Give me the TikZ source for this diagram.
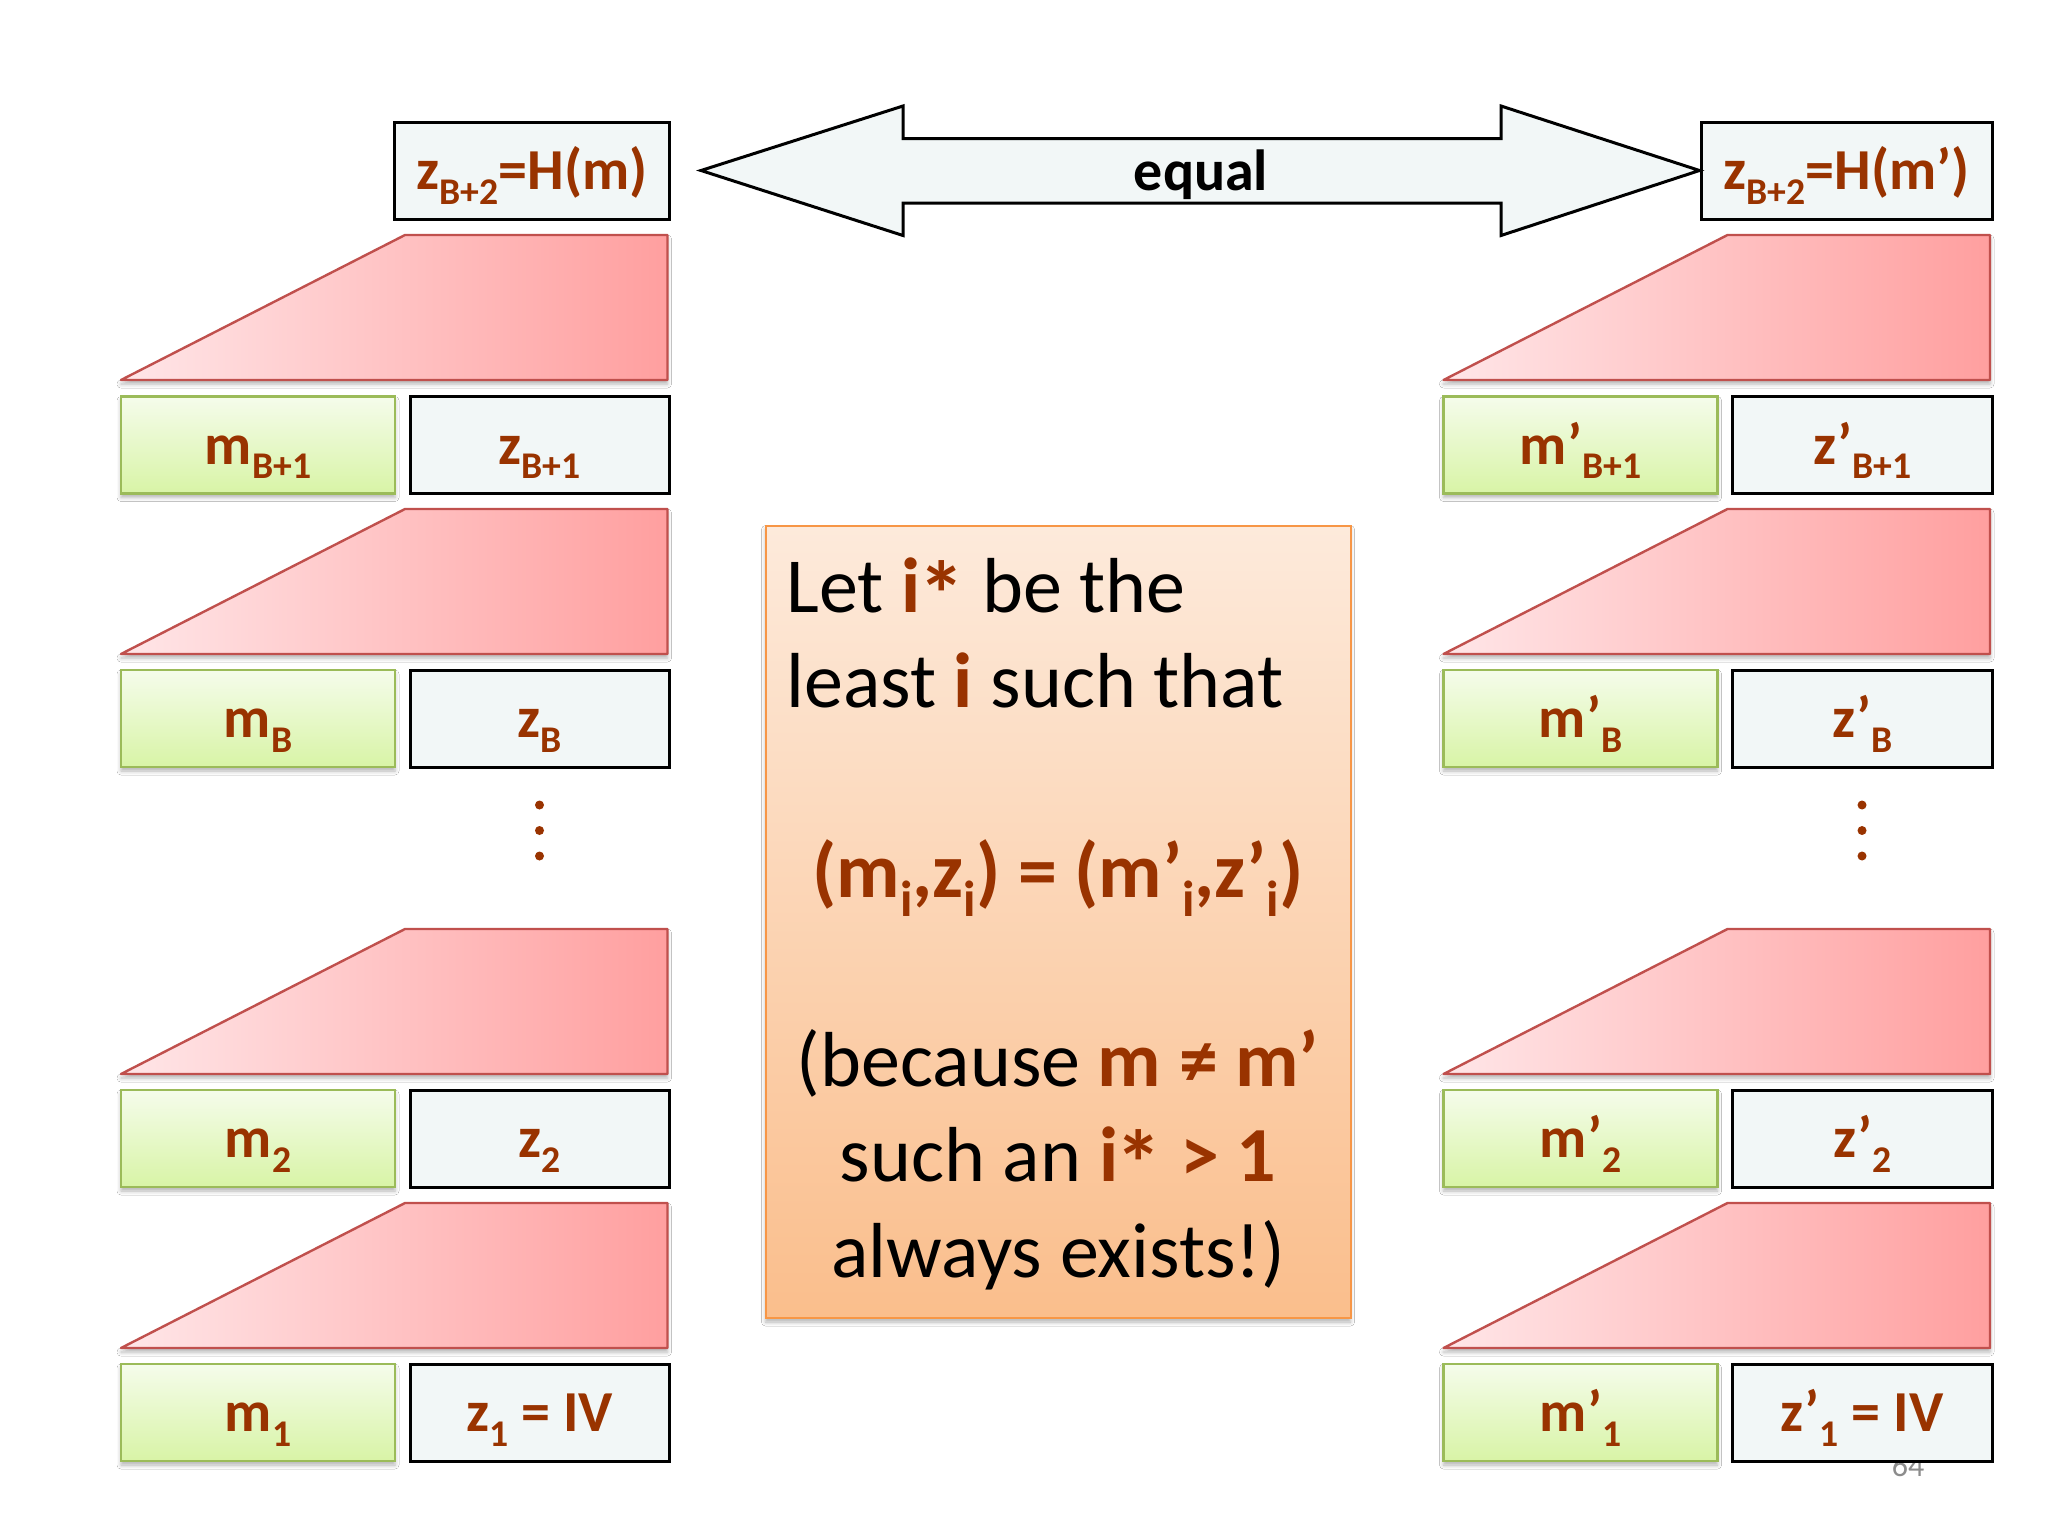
\documentclass[tikz,border=0pt]{standalone}
\usepackage{fontspec}
\setmainfont{Carlito}
\usepackage{graphicx}
\usetikzlibrary{calc,shadows.blur}
\definecolor{brn}{HTML}{993300}
\definecolor{zfill}{HTML}{F2F7F7}
\definecolor{mtop}{HTML}{F5FCEB}
\definecolor{mbot}{HTML}{D8F4A6}
\definecolor{mbord}{HTML}{9BBB59}
\definecolor{tleft}{HTML}{FFE6E8}
\definecolor{tright}{HTML}{FF9F9F}
\definecolor{tbord}{HTML}{C0504D}
\definecolor{otop}{HTML}{FDEADB}
\definecolor{obot}{HTML}{FABE8C}
\definecolor{obord}{HTML}{F79646}
\newcommand\sbs[1]{\raisebox{-0.25em}{\scalebox{0.65}{#1}}}
\newcommand\bigast{\kern-0.03em\raisebox{-0.2em}{\scalebox{1.2}{*}}}
\newcommand\trapez[2]{%
  \draw[trapstyle] (#1,#2+145) -- (#1+284,#2) -- (#1+546.5,#2) -- (#1+546.5,#2+145) -- cycle;}
\begin{document}
\begin{tikzpicture}[x=0.5pt,y=-0.5pt,
  lbl/.style={font=\fontsize{29}{34}\selectfont\bfseries, text=brn, text height=24pt, text depth=5pt},
  zcell/.style={draw=black, line width=1.5pt, fill=zfill, minimum width=129.75pt, minimum height=48.5pt, inner sep=0pt, lbl},
  mcell/.style={draw=mbord, line width=1.4pt, top color=mtop, bottom color=mbot, minimum width=137pt, minimum height=48.5pt, inner sep=0pt, lbl,
    blur shadow={shadow xshift=0pt, shadow yshift=-2pt, shadow blur radius=2pt, shadow opacity=30}},
  trapstyle/.style={draw=tbord, line width=1.2pt, left color=tleft, right color=tright, line join=round,
    blur shadow={shadow xshift=0pt, shadow yshift=-2pt, shadow blur radius=2pt, shadow opacity=30}},
  txt/.style={font=\fontsize{39}{47}\selectfont, text=black, inner sep=0pt},
  dotstyle/.style={fill=brn},
]
\fill[white] (0,0) rectangle (2048,1536);
\useasboundingbox (0,0) rectangle (2048,1536);

% page number (partly hidden)
\node[font=\fontsize{16}{18}\selectfont, text=black!45, anchor=base, inner sep=0pt] (pg) at (1908,1476) {64};

% ---------- left column ----------
\node[zcell, minimum width=137.5pt] (zL) at (532,170.5) {z\sbs{B+2}=H(m)};
\trapez{121}{235}
\node[mcell] (mL1) at (258,445) {m\sbs{B+1}};
\node[zcell] (zL1) at (539.75,445) {z\sbs{B+1}};
\trapez{121}{509}
\node[mcell] (mL2) at (258,718.5) {m\sbs{B}};
\node[zcell] (zL2) at (539.75,718.5) {z\sbs{B}};
\fill[dotstyle] (539.5,805) circle[radius=4.5];
\fill[dotstyle] (539.5,830.5) circle[radius=4.5];
\fill[dotstyle] (539.5,856) circle[radius=4.5];
\trapez{121}{929}
\node[mcell] (mL3) at (258,1138.5) {m\sbs{2}};
\node[zcell] (zL3) at (539.75,1138.5) {z\sbs{2}};
\trapez{121}{1203}
\node[mcell] (mL4) at (258,1412.5) {m\sbs{1}};
\node[zcell] (zL4) at (539.75,1412.5) {z\sbs{1} = IV};

% ---------- right column ----------
\node[zcell, minimum width=145.5pt] (zR) at (1846.5,170.5) {z\sbs{B+2}=H(m’)};
\trapez{1443.5}{235}
\node[mcell] (mR1) at (1580.5,445) {m’\sbs{B+1}};
\node[zcell] (zR1) at (1862.25,445) {z’\sbs{B+1}};
\trapez{1443.5}{509}
\node[mcell] (mR2) at (1580.5,718.5) {m’\sbs{B}};
\node[zcell] (zR2) at (1862.25,718.5) {z’\sbs{B}};
\fill[dotstyle] (1862,805) circle[radius=4.5];
\fill[dotstyle] (1862,830.5) circle[radius=4.5];
\fill[dotstyle] (1862,856) circle[radius=4.5];
\trapez{1443.5}{929}
\node[mcell] (mR3) at (1580.5,1138.5) {m’\sbs{2}};
\node[zcell] (zR3) at (1862.25,1138.5) {z’\sbs{2}};
\trapez{1443.5}{1203}
\node[mcell] (mR4) at (1580.5,1412.5) {m’\sbs{1}};
\node[zcell] (zR4) at (1862.25,1412.5) {z’\sbs{1} = IV};

% ---------- double arrow ----------
\coordinate (aL) at ($(zL.east)+(30,0)$);
\coordinate (aR) at (zR.west);
\draw[line width=1.5pt, fill=zfill, line join=miter]
  (aL) -- ($(aL)+(202,-64.5)$) -- ($(aL)+(202,-32)$) -- ($(aR)+(-198.5,-32)$) -- ($(aR)+(-198.5,-64.5)$)
  -- (aR) -- ($(aR)+(-198.5,65)$) -- ($(aR)+(-198.5,32.5)$) -- ($(aL)+(202,32.5)$) -- ($(aL)+(202,65)$) -- cycle;
\node[font=\fontsize{29}{34}\selectfont\bfseries, anchor=base, inner sep=0pt] (eq) at (1201,190) {equal};

% ---------- orange box ----------
\node[draw=obord, line width=1pt, top color=otop, bottom color=obot, minimum width=292.5pt, minimum height=396.25pt, inner sep=0pt,
  blur shadow={shadow xshift=0pt, shadow yshift=-2pt, shadow blur radius=2pt, shadow opacity=30}] (ob) at (1058,921.75) {};
\node[txt, anchor=base west] (t1) at (786,612) {Let \textcolor{brn}{\textbf{i\bigast}} be the};
\node[txt, anchor=base west] (t2) at (786,707) {least \textcolor{brn}{\textbf{i}} such that};
\node[txt, anchor=base] (t3) at (1058,897) {\textcolor{brn}{\textbf{(m\sbs{i},z\sbs{i}) = (m’\sbs{i},z’\sbs{i})}}};
\node[txt, anchor=base] (t4) at (1058,1086) {(because \textcolor{brn}{\textbf{m ≠ m’}}};
\node[txt, anchor=base] (t5) at (1058,1181) {such an \textcolor{brn}{\textbf{i\bigast{} > 1}}};
\node[txt, anchor=base] (t6) at (1058,1277) {always exists!)};
\end{tikzpicture}
\end{document}
